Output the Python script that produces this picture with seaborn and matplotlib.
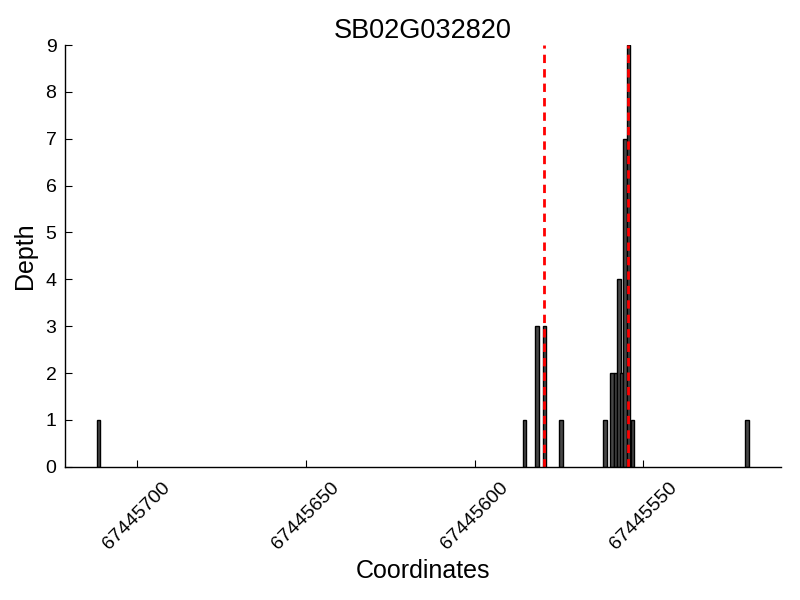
import matplotlib
matplotlib.use("Agg")
import matplotlib.pyplot as plt
import matplotlib.ticker as mticker
import seaborn as sns

# read depth per position (bar centres)
positions = [67445711.4, 67445585.25, 67445581.55, 67445579.35, 67445574.4,
             67445561.35, 67445559.3, 67445558.3, 67445557.25, 67445556.4,
             67445555.45, 67445554.4, 67445553.3, 67445519.3]
depths = [1, 1, 3, 3, 1, 1, 2, 2, 4, 2, 7, 9, 1, 1]

# cut sites marked with the dashed lines
sites = [67445579.3, 67445554.45]
x_ticks = [67445700, 67445650, 67445600, 67445550]
title = "SB02G032820"

sns.set_style("ticks")
plt.rcParams['font.family'] = ['Liberation Sans', 'DejaVu Sans']
plt.rcParams['text.color'] = 'black'
plt.rcParams['axes.labelcolor'] = 'black'

fig = plt.figure(figsize=(8, 6), dpi=100)
ax = fig.add_axes([0.081, 0.222, 0.895, 0.703])

ax.bar(positions, depths, width=1.0, color='#474747',
       edgecolor='black', linewidth=1)
for s in sites:
    ax.axvline(s, ymin=0, ymax=1, color='red', linestyle='--',
               linewidth=2, dashes=(3, 2.2))

ax.set_xlim(max(positions) + 10, min(positions) - 10)
ax.set_ylim(0, max(depths))
ax.set_xticks(x_ticks)
ax.xaxis.set_major_formatter(mticker.FormatStrFormatter('%d'))
ax.set_yticks(range(0, max(depths) + 1))

ax.tick_params(direction='in', length=5, width=0.8, labelsize=14,
               colors='black', pad=6)
ax.tick_params(axis='x', rotation=45, pad=9)
for lab in ax.get_xticklabels():
    lab.set_ha('center')

sns.despine(ax=ax)
for sp in ['left', 'bottom']:
    ax.spines[sp].set_color('black')
    ax.spines[sp].set_linewidth(1)

ax.set_title(title, fontsize=19.5, pad=5)
ax.set_xlabel("Coordinates", fontsize=18, labelpad=4)
ax.set_ylabel("Depth", fontsize=18, labelpad=6)

fig.savefig('out.png', dpi=100)
